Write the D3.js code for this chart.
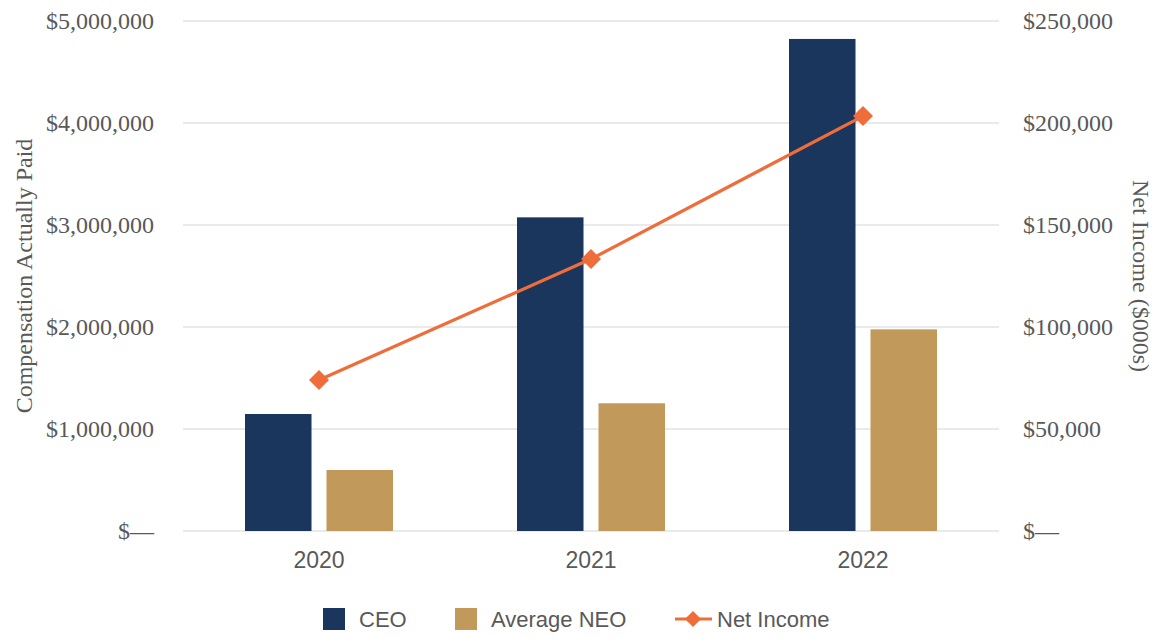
<!DOCTYPE html>
<html>
<head>
<meta charset="utf-8">
<script src="https://cdn.jsdelivr.net/npm/d3@7"></script>
<style>
  html, body { margin: 0; padding: 0; background: #ffffff; }
  svg { display: block; }
</style>
</head>
<body>
<svg id="chart" width="1159" height="638"></svg>
<script>
// Fiscal years shown on the category axis
const years = ["2020", "2021", "2022"];
// Compensation actually paid (left axis, dollars)
const ceoPaid = [1147000, 3075000, 4824000];
const neoAvgPaid = [598000, 1252000, 1977000];
// Net income (right axis, $000s)
const netIncome = [74000, 133300, 203400];
// Tick values and labels
const leftTicks = [0, 1000000, 2000000, 3000000, 4000000, 5000000];
const rightTicks = [0, 50000, 100000, 150000, 200000, 250000];
const seriesNames = ["CEO", "Average NEO", "Net Income"];

(function drawChart() {
  const colors = { ceo: "#1B365D", neo: "#C19A5B", ni: "#EF6D3A", text: "#595959", grid: "#E3E3E3" };

  const svg = d3.select("#chart");
  const plotLeft = 183, plotRight = 999, plotTop = 21, plotBottom = 531;

  const x = d3.scaleBand().domain(years).range([plotLeft, plotRight]).paddingInner(0).paddingOuter(0);
  const xSeries = d3.scaleBand().domain(["ceo", "neo"]).range([62, 210]).paddingInner(0.184);
  const yLeft = d3.scaleLinear().domain([0, 5000000]).range([plotBottom, plotTop]);
  const yRight = d3.scaleLinear().domain([0, 250000]).range([plotBottom, plotTop]);

  const dollar = d3.format("$,");
  const fmt = v => v === 0 ? "$\u2014" : dollar(v);
  const serif = "'Liberation Serif', 'Times New Roman', serif";
  const sans = "'Liberation Sans', Arial, sans-serif";

  // Horizontal gridlines
  svg.append("g").selectAll("line").data(leftTicks).join("line")
    .attr("x1", plotLeft).attr("x2", plotRight)
    .attr("y1", d => yLeft(d)).attr("y2", d => yLeft(d))
    .attr("stroke", colors.grid).attr("stroke-width", 1.6);

  // Left axis labels
  const leftAxis = svg.append("g").attr("transform", "translate(154,0)")
    .call(d3.axisLeft(yLeft).tickValues(leftTicks).tickFormat(fmt).tickSize(0).tickPadding(0));
  leftAxis.select(".domain").remove();
  leftAxis.selectAll("text")
    .attr("font-family", serif).attr("font-size", 24).attr("fill", colors.text);

  // Right axis labels
  const rightAxis = svg.append("g").attr("transform", "translate(1023,0)")
    .call(d3.axisRight(yRight).tickValues(rightTicks).tickFormat(fmt).tickSize(0).tickPadding(0));
  rightAxis.select(".domain").remove();
  rightAxis.selectAll("text")
    .attr("font-family", serif).attr("font-size", 24).attr("fill", colors.text);

  // Category labels
  const xAxis = svg.append("g").attr("transform", `translate(0,${plotBottom})`)
    .call(d3.axisBottom(x).tickSize(0).tickPadding(0));
  xAxis.select(".domain").remove();
  xAxis.selectAll("text")
    .attr("y", 37).attr("dy", 0)
    .attr("font-family", sans).attr("font-size", 23).attr("fill", colors.text);

  // Axis titles
  svg.append("text")
    .attr("transform", `translate(32,${(plotTop + plotBottom) / 2}) rotate(-90)`)
    .attr("text-anchor", "middle")
    .attr("font-family", serif).attr("font-size", 24).attr("fill", colors.text)
    .text("Compensation Actually Paid");

  svg.append("text")
    .attr("transform", `translate(1133,${(plotTop + plotBottom) / 2}) rotate(90)`)
    .attr("text-anchor", "middle")
    .attr("font-family", serif).attr("font-size", 24).attr("fill", colors.text)
    .text("Net Income ($000s)");

  // Bars
  const barData = years.map((yr, i) => ({ yr, ceo: ceoPaid[i], neo: neoAvgPaid[i] }));
  const groups = svg.append("g").selectAll("g").data(barData).join("g")
    .attr("transform", d => `translate(${x(d.yr)},0)`);
  groups.selectAll("rect")
    .data(d => [{ k: "ceo", v: d.ceo }, { k: "neo", v: d.neo }])
    .join("rect")
    .attr("x", d => xSeries(d.k))
    .attr("width", xSeries.bandwidth())
    .attr("y", d => yLeft(d.v))
    .attr("height", d => yLeft(0) - yLeft(d.v))
    .attr("fill", d => colors[d.k]);

  // Net income line with diamond markers
  const niData = years.map((yr, i) => ({ yr, v: netIncome[i] }));
  const cx = d => x(d.yr) + x.bandwidth() / 2;
  svg.append("path").datum(niData)
    .attr("d", d3.line().x(cx).y(d => yRight(d.v)))
    .attr("fill", "none").attr("stroke", colors.ni).attr("stroke-width", 3.2);
  const diamond = d3.symbol().type(d3.symbolSquare).size(200);
  svg.append("g").selectAll("path").data(niData).join("path")
    .attr("d", diamond)
    .attr("transform", d => `translate(${cx(d)},${yRight(d.v)}) rotate(45)`)
    .attr("fill", colors.ni);

  // Legend
  const lg = svg.append("g").attr("font-family", sans)
    .attr("font-size", 22).attr("fill", colors.text);
  const ly = 619;
  lg.append("rect").attr("x", 323).attr("y", ly - 11).attr("width", 22).attr("height", 22).attr("fill", colors.ceo);
  lg.append("text").attr("x", 359).attr("y", ly).attr("dy", "0.36em").text(seriesNames[0]);
  lg.append("rect").attr("x", 455).attr("y", ly - 11).attr("width", 22).attr("height", 22).attr("fill", colors.neo);
  lg.append("text").attr("x", 491).attr("y", ly).attr("dy", "0.36em").text(seriesNames[1]);
  lg.append("line").attr("x1", 675).attr("x2", 712).attr("y1", ly).attr("y2", ly)
    .attr("stroke", colors.ni).attr("stroke-width", 3.2);
  lg.append("path").attr("d", d3.symbol().type(d3.symbolSquare).size(130))
    .attr("transform", `translate(693,${ly}) rotate(45)`).attr("fill", colors.ni);
  lg.append("text").attr("x", 717).attr("y", ly).attr("dy", "0.36em").text(seriesNames[2]);
})();
</script>
</body>
</html>
